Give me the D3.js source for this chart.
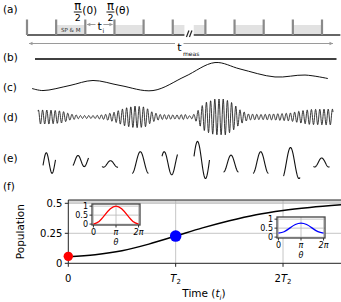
<!DOCTYPE html>
<html><head><meta charset="utf-8">
<script src="https://cdn.jsdelivr.net/npm/d3@7"></script>
<style>body{margin:0;background:#fff} svg{display:block;font-family:"DejaVu Sans",sans-serif}</style>
</head><body><svg id="c" width="341" height="302"></svg>
<script>
// ---------------- DATA ----------------
const panelLabels = ["(a)","(b)","(c)","(d)","(e)","(f)"];
// (a) pulse sequence (in pulse-interval units)
const pulseTimes = [0,1,2,3,4,5,6.12,7.12,8.12,9.12,10.12];
const shadedIntervals = [[1,2],[3,4],[5,5.4],[5.72,6.12],[7.12,8.12],[9.12,10.12]];
const baselineSegments = [[0,5.4],[5.72,10.75]];
// (b) constant signal (time units)
const bTime = [5, 306.5];
const bSignal = [0, 0];
// (c) slow signal
const cTime = [2,13,40,63,90,123,155,185,210,245,275,298];
const cSignal = [-0.78,-0.91,-0.59,-0.28,-0.59,-0.91,-0.03,0.84,0.44,-0.06,0.06,-0.16];
// (d) fast oscillation: envelope samples and carrier period
const dEnvTime = [8,20,32,40,50,65,75,85,95,105,115,122,130,145,155,160,165,170,175,185,195,202,210,218,230,245,260,270,280,295,303];
const dEnvAmp  = [0.39,0.39,0.33,0.17,0.08,0.08,0.14,0.28,0.5,0.61,0.56,0.28,0.14,0.11,0.14,0.06,0.17,0.5,0.8,1,1,0.8,0.4,0.17,0.14,0.17,0.22,0.33,0.42,0.44,0.44];
const dCarrierPeriod = 4.2;
// (e) sampled snippets
const snipStart  = [13,43,72,102,132,164,193.5,223,253.5,283.5];
const snipEnd    = [25.5,58.5,88,118.5,147.5,179.5,208.5,238.5,270,299.5];
const snipPeak   = [16.3,48,80.5,110.3,134.2,167.5,201,230.7,260.5,291.7];
const snipPeriod = [11.5,12.5,14,16.5,15,16,15,15.5,17,14];
const snipAmp    = [0.57,0.31,0.18,0.6,0.64,1.03,0.47,0.6,0.86,0.25];
const snipMid    = [-0.03,0.08,-0.08,0,-0.04,0.14,-0.06,0,-0.03,0];
// (f) population vs time
const fTime = [0,0.25,0.5,0.75,1,1.25,1.5,1.75,2,2.25,2.54];
const fPop  = [0.055,0.072,0.105,0.16,0.227,0.295,0.355,0.405,0.44,0.465,0.487];
const fXTicks = [0,1,2];
const fXTickLabels = ["0","T2","2T2"];
const fYTicks = [0,0.25,0.5];
const fYTickLabels = ["0","0.25","0.5"];
const markers = [{t:0,p:0.058,c:"#ff0000"},{t:1,p:0.227,c:"#0000ff"}];
// insets
const theta = [0,Math.PI/4,Math.PI/2,3*Math.PI/4,Math.PI,5*Math.PI/4,3*Math.PI/2,7*Math.PI/4,2*Math.PI];
const insetRed  = [0,0.15,0.5,0.85,1,0.85,0.5,0.15,0];
const insetBlue = [0.22,0.30,0.5,0.70,0.78,0.70,0.5,0.30,0.22];
const insetXTicks = [0,Math.PI,2*Math.PI];
const insetXTickLabels = ["0","π","2π"];
const insetYTicks = [0,0.5,1];
const insetYTickLabels = ["0","0.5","1"];

// ---------------- DRAW ----------------
const svg = d3.select("#c");
const lbl = [[3,13],[3,61],[3,91],[3,121],[3,162],[3,190]];
svg.selectAll("text.plab").data(panelLabels).join("text").attr("class","plab")
  .attr("x",(d,i)=>lbl[i][0]).attr("y",(d,i)=>lbl[i][1]).attr("font-size",10.5).text(d=>d);

// ---- (a)
const xa = d3.scaleLinear().domain([0,10.12]).range([27,322]);
const ga = svg.append("g");
ga.selectAll("rect.sh").data(shadedIntervals).join("rect").attr("class","sh")
  .attr("x",d=>xa(d[0])).attr("width",d=>xa(d[1])-xa(d[0])).attr("y",25).attr("height",10).attr("fill","#e2e2e2");
ga.selectAll("line.bl").data(baselineSegments).join("line").attr("class","bl")
  .attr("x1",d=>xa(d[0])).attr("x2",d=>xa(d[1])).attr("y1",35).attr("y2",35).attr("stroke","#333").attr("stroke-width",1.4);
ga.selectAll("rect.p").data(pulseTimes).join("rect").attr("class","p")
  .attr("x",d=>xa(d)-1.1).attr("width",2.2).attr("y",19.5).attr("height",15.5).attr("fill","#8a8a8a");
// break marks
[0,3].forEach(o=>ga.append("line").attr("x1",xa(5.47)+o).attr("y1",37).attr("x2",xa(5.47)+o+2.5).attr("y2",30.5).attr("stroke","#222").attr("stroke-width",1.2));
ga.append("text").attr("x",(xa(1)+xa(2))/2).attr("y",31.5).attr("text-anchor","middle").attr("font-size",5.6).attr("fill","#333").text("SP & M");
// pi/2 labels
function piHalf(cx, tail){
  ga.append("text").attr("x",cx).attr("y",10).attr("text-anchor","middle").attr("font-size",11.5).text("π");
  ga.append("line").attr("x1",cx-4).attr("x2",cx+4).attr("y1",12).attr("y2",12).attr("stroke","#000").attr("stroke-width",0.9);
  ga.append("text").attr("x",cx).attr("y",20.5).attr("text-anchor","middle").attr("font-size",9.5).text("2");
  ga.append("text").attr("x",cx+4.5).attr("y",14).attr("font-size",10.5).text(tail);
}
piHalf(xa(2)-7.5,"(0)");
piHalf(xa(3)-4,"(θ)");
// t_i arrow
const ac = "#9a9a9a";
function arrowHead(x,y,dir){
  ga.append("path").attr("d",`M${x},${y} L${x-dir*3.5},${y-1.8} L${x-dir*3.5},${y+1.8}Z`).attr("fill",ac);
}
ga.append("line").attr("x1",xa(2)+2).attr("x2",xa(2.35)).attr("y1",24.5).attr("y2",24.5).attr("stroke",ac);
ga.append("line").attr("x1",xa(2.62)).attr("x2",xa(3)-2).attr("y1",24.5).attr("y2",24.5).attr("stroke",ac);
arrowHead(xa(2)+1.5,24.5,-1); arrowHead(xa(3)-1.5,24.5,1);
ga.append("text").attr("x",xa(2.49)).attr("y",30).attr("text-anchor","middle").attr("font-size",11).text("t");
ga.append("text").attr("x",xa(2.49)+3).attr("y",33).attr("font-size",6).text("i");
// t_meas arrow
ga.append("line").attr("x1",29).attr("x2",175).attr("y1",43.5).attr("y2",43.5).attr("stroke",ac);
ga.append("line").attr("x1",183.5).attr("x2",333).attr("y1",43.5).attr("y2",43.5).attr("stroke",ac);
arrowHead(29,43.5,-1); arrowHead(333,43.5,1);
ga.append("text").attr("x",179.5).attr("y",51).attr("text-anchor","middle").attr("font-size",11).text("t");
ga.append("text").attr("x",183).attr("y",55.5).attr("font-size",6).text("meas");

// ---- (b),(c),(d),(e) shared time scale
const xt = d3.scaleLinear().domain([0,310]).range([30,340]);
const yb = d3.scaleLinear().domain([-1,1]).range([75,43]);
svg.append("line").attr("x1",xt(bTime[0])).attr("x2",xt(bTime[1])).attr("y1",yb(bSignal[0])).attr("y2",yb(bSignal[1]))
  .attr("stroke","#000").attr("stroke-width",1.5);

const yc = d3.scaleLinear().domain([-1,1]).range([92,60]);
svg.append("path").datum(cTime.map((t,i)=>[t,cSignal[i]]))
  .attr("d",d3.line().x(d=>xt(d[0])).y(d=>yc(d[1])).curve(d3.curveCatmullRom.alpha(0.5)))
  .attr("fill","none").attr("stroke","#111").attr("stroke-width",1);

const yd = d3.scaleLinear().domain([-1,1]).range([135,99]);
const env = d3.scaleLinear().domain(dEnvTime).range(dEnvAmp);
const dPts = d3.range(dEnvTime[0], dEnvTime[dEnvTime.length-1]+0.001, 0.25).map(t=>[t, env(t)*Math.cos(2*Math.PI*t/dCarrierPeriod)]);
svg.append("path").datum(dPts).attr("d",d3.line().x(d=>xt(d[0])).y(d=>yd(d[1])))
  .attr("fill","none").attr("stroke","#222").attr("stroke-width",0.9);

const ye = d3.scaleLinear().domain([-1,1]).range([180.5,144.5]);
snipStart.forEach((s,i)=>{
  const pts = d3.range(s, snipEnd[i]+0.001, 0.25).map(t=>[t, snipMid[i]+snipAmp[i]*Math.cos(2*Math.PI*(t-snipPeak[i])/snipPeriod[i])]);
  svg.append("path").datum(pts).attr("d",d3.line().x(d=>xt(d[0])).y(d=>ye(d[1])))
    .attr("fill","none").attr("stroke","#111").attr("stroke-width",1.1);
});

// ---- (f)
const xf = d3.scaleLinear().domain([0,2.54]).range([68.3,341]);
const yf = d3.scaleLinear().domain([0,0.5275]).range([263.3,200]);
const gf = svg.append("g");
gf.append("rect").attr("x",xf(0)).attr("y",yf(0.5275)).attr("width",341-xf(0)).attr("height",yf(0.5)-yf(0.5275)).attr("fill","#d9d9d9");
gf.selectAll("line.gx").data(fXTicks.slice(1)).join("line").attr("class","gx")
  .attr("x1",d=>xf(d)).attr("x2",d=>xf(d)).attr("y1",yf(0)).attr("y2",yf(0.5275)).attr("stroke","#b8b8b8").attr("stroke-width",0.8);
gf.selectAll("line.gy").data(fYTicks.slice(1)).join("line").attr("class","gy")
  .attr("x1",xf(0)).attr("x2",341).attr("y1",d=>yf(d)).attr("y2",d=>yf(d)).attr("stroke","#b8b8b8").attr("stroke-width",0.8);
gf.append("path").datum(fTime.map((t,i)=>[t,fPop[i]]))
  .attr("d",d3.line().x(d=>xf(d[0])).y(d=>yf(d[1])).curve(d3.curveMonotoneX))
  .attr("fill","none").attr("stroke","#000").attr("stroke-width",1.5);
// spines
gf.append("line").attr("x1",xf(0)).attr("x2",341).attr("y1",yf(0.5275)).attr("y2",yf(0.5275)).attr("stroke","#222").attr("stroke-width",1);
gf.append("line").attr("x1",xf(0)).attr("x2",341).attr("y1",yf(0)).attr("y2",yf(0)).attr("stroke","#222").attr("stroke-width",1);
gf.append("line").attr("x1",xf(0)).attr("x2",xf(0)).attr("y1",yf(0)).attr("y2",yf(0.5275)).attr("stroke","#222").attr("stroke-width",1);
// ticks
gf.selectAll("line.tx").data(fXTicks).join("line").attr("class","tx")
  .attr("x1",d=>xf(d)).attr("x2",d=>xf(d)).attr("y1",yf(0)).attr("y2",yf(0)+3.5).attr("stroke","#222");
gf.selectAll("line.ty").data(fYTicks).join("line").attr("class","ty")
  .attr("x1",xf(0)-3.5).attr("x2",xf(0)).attr("y1",d=>yf(d)).attr("y2",d=>yf(d)).attr("stroke","#222");
gf.selectAll("text.ty").data(fYTicks).join("text").attr("class","ty")
  .attr("x",xf(0)-6).attr("y",d=>yf(d)+3.6).attr("text-anchor","end").attr("font-size",10).text((d,i)=>fYTickLabels[i]);
fXTicks.forEach((d,i)=>{
  const t = gf.append("text").attr("x",xf(d)).attr("y",281.5).attr("text-anchor","middle").attr("font-size",10);
  const s = fXTickLabels[i];
  if (s.includes("T")) {
    const pre = s.split("T")[0];
    if (pre) t.append("tspan").text(pre);
    t.append("tspan").attr("font-style","italic").text("T");
    t.append("tspan").attr("font-size",7).attr("dy",2.5).text("2");
  } else t.text(s);
});
gf.append("text").attr("transform",`translate(24,${(yf(0)+yf(0.5275))/2}) rotate(-90)`).attr("text-anchor","middle").attr("font-size",10.5).text("Population");
const xl = gf.append("text").attr("x",204).attr("y",297).attr("text-anchor","middle").attr("font-size",10.5);
xl.append("tspan").text("Time (");
xl.append("tspan").attr("font-style","italic").text("t");
xl.append("tspan").attr("font-style","italic").attr("font-size",7).attr("dy",2.5).text("i");
xl.append("tspan").attr("dy",-2.5).text(")");
// markers
gf.selectAll("circle.m").data(markers).join("circle").attr("class","m")
  .attr("cx",d=>xf(d.t)).attr("cy",d=>yf(d.p)).attr("r",(d,i)=>i===0?4.7:5.8).attr("fill",d=>d.c);

// insets
function inset(x0,y0,vals,color){
  const w=48,h=21;
  const xi = d3.scaleLinear().domain([-0.2,2*Math.PI+0.2]).range([x0,x0+w]);
  const yi = d3.scaleLinear().domain([-0.05,1.12]).range([y0+h,y0]);
  const g = svg.append("g");
  g.append("rect").attr("x",x0).attr("y",y0).attr("width",w).attr("height",h).attr("fill","#fff");
  g.selectAll("line.gx").data(insetXTicks).join("line").attr("class","gx")
    .attr("x1",d=>xi(d)).attr("x2",d=>xi(d)).attr("y1",y0).attr("y2",y0+h).attr("stroke","#b8b8b8").attr("stroke-width",0.8);
  g.selectAll("line.gy").data(insetYTicks).join("line").attr("class","gy")
    .attr("x1",x0).attr("x2",x0+w).attr("y1",d=>yi(d)).attr("y2",d=>yi(d)).attr("stroke","#b8b8b8").attr("stroke-width",0.8);
  g.append("path").datum(theta.map((t,i)=>[t,vals[i]]))
    .attr("d",d3.line().x(d=>xi(d[0])).y(d=>yi(d[1])).curve(d3.curveNatural))
    .attr("fill","none").attr("stroke",color).attr("stroke-width",1.3);
  g.append("rect").attr("x",x0).attr("y",y0).attr("width",w).attr("height",h).attr("fill","none").attr("stroke","#444").attr("stroke-width",1.3);
  g.selectAll("line.tx").data(insetXTicks).join("line").attr("class","tx")
    .attr("x1",d=>xi(d)).attr("x2",d=>xi(d)).attr("y1",y0+h).attr("y2",y0+h+2.5).attr("stroke","#333");
  g.selectAll("line.ty").data(insetYTicks).join("line").attr("class","ty")
    .attr("x1",x0-2.5).attr("x2",x0).attr("y1",d=>yi(d)).attr("y2",d=>yi(d)).attr("stroke","#333");
  g.selectAll("text.tx").data(insetXTicks).join("text").attr("class","tx")
    .attr("x",d=>xi(d)).attr("y",y0+h+10).attr("text-anchor","middle").attr("font-size",8).attr("font-style",(d,i)=>i?"italic":null).text((d,i)=>insetXTickLabels[i]);
  g.selectAll("text.ty").data(insetYTicks).join("text").attr("class","ty")
    .attr("x",x0-4).attr("y",d=>yi(d)+2.8).attr("text-anchor","end").attr("font-size",8).text((d,i)=>insetYTickLabels[i]);
  g.append("text").attr("x",xi(Math.PI)).attr("y",y0+h+19.5).attr("text-anchor","middle").attr("font-size",8).attr("font-style","italic").text("θ");
}
inset(92,204,insetRed,"#ff0000");
inset(277,217,insetBlue,"#0000ff");
</script></body></html>
